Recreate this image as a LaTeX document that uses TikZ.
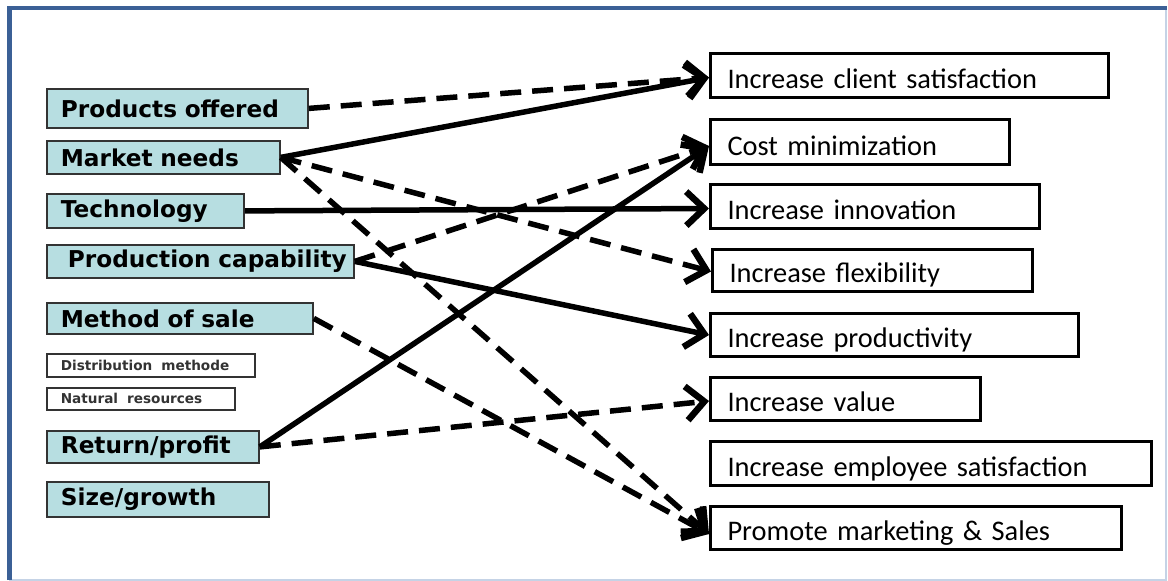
\documentclass[tikz,border=0pt]{standalone}
\usepackage{fontspec}
\setmainfont{DejaVu Sans}
\newfontfamily\boxfont{Carlito}
\usetikzlibrary{arrows.meta,calc}
\definecolor{framedark}{HTML}{3B6096}
\definecolor{framelight}{HTML}{C5D3E6}
\definecolor{cyanfill}{HTML}{B7DEE1}
\tikzset{
  leftbox/.style={draw=black!80, line width=1.8pt, fill=cyanfill, anchor=north west,
    inner xsep=14pt, inner ysep=0pt, align=left,
    font=\fontsize{23.2}{24}\selectfont\bfseries},
  smallbox/.style={draw=black!80, line width=1.6pt, fill=white, anchor=north west,
    inner xsep=14pt, inner ysep=0pt, align=left, text=black!80,
    font=\fontsize{13.6}{14}\selectfont\bfseries},
  rightbox/.style={draw=black, line width=3pt, fill=white, anchor=north west,
    inner xsep=17pt, inner ysep=0pt, align=left, text depth=9pt,
    font=\boxfont\fontsize{28.4}{30}\selectfont},
  conn/.style={line width=5.5pt, -{Straight Barb[length=18pt,width=34pt,line width=6.5pt]}},
  dconn/.style={conn, dash pattern=on 21pt off 11pt},
}
\begin{document}
\begin{tikzpicture}[x=1pt,y=-1pt]
\useasboundingbox (0,0) rectangle (1168,581);
\fill[white] (0,0) rectangle (1168,581);
% frame
\draw[framelight, line width=2pt] (1166,10) -- (1166,580) -- (9,580);
\draw[framedark, line width=4.5pt] (9.5,580) -- (9.5,8) -- (1167,8);

% left boxes
\node[leftbox, text width=233pt, minimum height=39pt] (po) at (46,88) {Products offered};
\node[leftbox, text width=205pt, minimum height=33pt] (mn) at (46,140) {Market needs};
\node[leftbox, text width=169pt, minimum height=34pt] (te) at (46,193) {Technology};
\node[leftbox, inner xsep=6pt, text width=295pt, minimum height=33pt] (pc) at (46,244) {\hspace*{15pt}Production capability};
\node[leftbox, text width=238pt, minimum height=31pt] (ms) at (46,302) {Method of sale};
\node[smallbox, text width=180pt, minimum height=23pt] (dm) at (46,353) {Distribution\ \ methode};
\node[smallbox, text width=160pt, minimum height=22pt] (nr) at (46,387) {Natural\ \ resources};
\node[leftbox, text width=184pt, minimum height=32pt] (rp) at (46,430) {Return/profit};
\node[leftbox, text width=194pt, minimum height=35pt] (sg) at (46,481) {Size/growth};

% right boxes
\node[rightbox, text width=364pt, text height=35pt] (cs) at (709,52) {Increase client satisfaction};
\node[rightbox, text width=265pt, text height=36pt] (cm) at (709,118) {Cost minimization};
\node[rightbox, text width=295pt, text height=35pt] (ii) at (709,183) {Increase innovation};
\node[rightbox, text width=286pt, text height=33pt] (if) at (711,248) {Increase flexibility};
\node[rightbox, text width=334pt, text height=34pt] (ip) at (709,312) {Increase productivity};
\node[rightbox, text width=236pt, text height=34pt] (iv) at (709,376) {Increase value};
\node[rightbox, text width=407pt, text height=35pt] (es) at (709,440) {Increase employee satisfaction};
\node[rightbox, text width=377pt, text height=34pt] (pm) at (709,505) {Promote marketing \& Sales};

% connectors
\draw[dconn] (po.east) -- ([yshift=-2pt]cs.west);
\draw[conn] (mn.east) -- ([yshift=-2pt]cs.west);
\draw[dconn] (mn.east) -- ([yshift=-1pt]if.west);
\draw[dconn] (mn.east) -- ([yshift=-6pt]pm.west);
\draw[conn] (te.east) -- ([yshift=-2pt]ii.west);
\draw[dconn] (pc.east) -- ([yshift=-4pt]cm.west);
\draw[conn] (pc.east) -- (ip.west);
\draw[dconn] (ms.east) -- ([yshift=-6pt]pm.west);
\draw[conn] (rp.east) -- ([yshift=-4pt]cm.west);
\draw[dconn] (rp.east) -- ([yshift=-2pt]iv.west);
\end{tikzpicture}
\end{document}
